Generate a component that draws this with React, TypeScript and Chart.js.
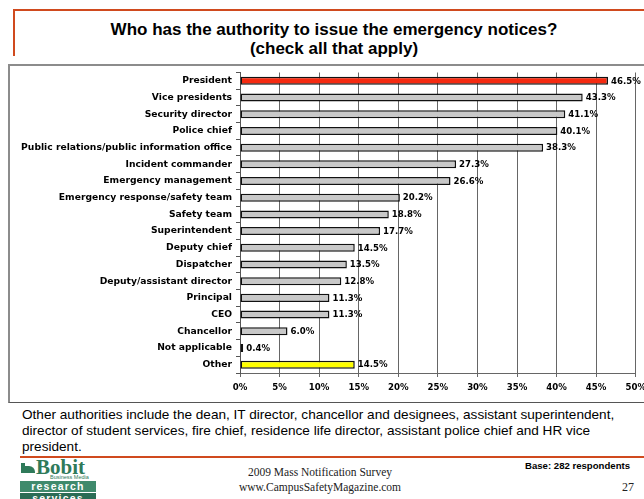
import React, { useEffect, useRef } from "react";
import { Chart, registerables } from "chart.js";

Chart.register(...registerables);

const categories = [
  "President",
  "Vice presidents",
  "Security director",
  "Police chief",
  "Public relations/public information office",
  "Incident commander",
  "Emergency management",
  "Emergency response/safety team",
  "Safety team",
  "Superintendent",
  "Deputy chief",
  "Dispatcher",
  "Deputy/assistant director",
  "Principal",
  "CEO",
  "Chancellor",
  "Not applicable",
  "Other",
];

const values = [46.5, 43.3, 41.1, 40.1, 38.3, 27.3, 26.6, 20.2, 18.8, 17.7, 14.5, 13.5, 12.8, 11.3, 11.3, 6.0, 0.4, 14.5];

const xTickValues = [0, 5, 10, 15, 20, 25, 30, 35, 40, 45, 50];

const barColors = categories.map((c) =>
  c === "President" ? "#f52a10" : c === "Other" ? "#ffff00" : "#c8c8c8"
);

const FONT = "'Liberation Sans', Arial, sans-serif";
const CHART_FONT = "'DejaVu Sans', sans-serif";

const valueLabelPlugin = {
  id: "valueLabels",
  afterDatasetsDraw(chart: any) {
    const ctx = chart.ctx;
    const meta = chart.getDatasetMeta(0);
    ctx.save();
    ctx.font = `bold 8.6px ${CHART_FONT}`;
    ctx.fillStyle = "#000";
    ctx.textAlign = "left";
    ctx.textBaseline = "middle";
    meta.data.forEach((bar: any, i: number) => {
      ctx.fillText(values[i].toFixed(1) + "%", bar.x + 3, bar.y + 0.5);
    });
    ctx.restore();
  },
};

function BarChart() {
  const ref = useRef<HTMLCanvasElement>(null);
  useEffect(() => {
    if (!ref.current) return;
    const chart = new Chart(ref.current, {
      type: "bar",
      data: {
        labels: categories,
        datasets: [
          {
            data: values,
            backgroundColor: barColors,
            borderColor: "#111",
            borderWidth: 1.5,
            borderSkipped: false,
            categoryPercentage: 1,
            barPercentage: 0.48,
          },
        ],
      },
      options: {
        indexAxis: "y",
        animation: false,
        responsive: false,
        maintainAspectRatio: false,
        layout: { padding: { top: 0, right: 0, left: 0, bottom: 0 } },
        plugins: {
          legend: { display: false },
          tooltip: { enabled: false },
        },
        scales: {
          x: {
            min: 0,
            max: 50,
            afterBuildTicks: (scale: any) => {
              scale.ticks = xTickValues.map((v) => ({ value: v }));
            },
            afterFit: (scale: any) => {
              scale.height = 27;
            },
            grid: {
              color: "#666",
              lineWidth: 1,
              drawTicks: true,
              tickLength: 4,
              tickColor: "#666",
            },
            border: { display: true, color: "#666" },
            ticks: {
              padding: 6,
              color: "#000",
              font: { family: CHART_FONT, size: 8.6, weight: "bold" },
              callback: (v: any) => v + "%",
            },
          },
          y: {
            afterFit: (scale: any) => {
              scale.width = 230;
            },
            grid: {
              display: true,
              drawOnChartArea: false,
              drawTicks: true,
              tickLength: 4,
              offset: true,
              color: "#555",
            },
            border: { display: true, color: "#555" },
            ticks: {
              padding: 4,
              color: "#000",
              autoSkip: false,
              font: { family: CHART_FONT, size: 9.2, weight: "bold" },
            },
          },
        },
      },
      plugins: [valueLabelPlugin],
    });
    return () => chart.destroy();
  }, []);
  return <canvas ref={ref} width={642} height={337} style={{ position: "absolute", left: 10, top: 63, width: 642, height: 337 }} />;
}

export default function App() {
  return (
    <div
      style={{
        position: "fixed",
        left: 0,
        top: 0,
        width: 644,
        height: 499,
        background: "#fff",
        overflow: "hidden",
        fontFamily: FONT,
      }}
    >
      {/* top red rule */}
      <div style={{ position: "absolute", left: 13, top: 9, width: 631, height: 2, background: "#d04a1e" }} />
      <div style={{ position: "absolute", left: 13, top: 9, width: 2, height: 47, background: "#d04a1e" }} />
      {/* title */}
      <div
        style={{
          position: "absolute",
          left: 14,
          top: 20,
          width: 640,
          textAlign: "center",
          fontWeight: "bold",
          fontSize: 17,
          lineHeight: "19px",
          color: "#000",
        }}
      >
        Who has the authority to issue the emergency notices?
        <br />
        (check all that apply)
      </div>
      {/* chart box */}
      <div
        style={{
          position: "absolute",
          left: 8,
          top: 64,
          width: 640,
          height: 336,
          borderLeft: "2px solid #8c8c8c",
          borderTop: "2px solid #8c8c8c",
          borderBottom: "1px solid #555",
        }}
      />
      <BarChart />
      {/* note text */}
      <div
        style={{
          position: "absolute",
          left: 22,
          top: 407,
          width: 622,
          fontSize: 13.6,
          lineHeight: "16px",
          color: "#000",
          whiteSpace: "nowrap",
        }}
      >
        Other authorities include the dean, IT director, chancellor and designees, assistant superintendent,
        <br />
        director of student services, fire chief, residence life director, assistant police chief and HR vice
        <br />
        president.
      </div>
      <div style={{ position: "absolute", left: 20, top: 456, width: 624, height: 2, background: "#d04a1e" }} />
      {/* logo */}
      <div style={{ position: "absolute", left: 20, top: 460, width: 76, height: 39 }}>
        <div style={{ position: "absolute", left: 1, top: 3, width: 4, height: 10, background: "#2f7a5a" }} />
        <div style={{ position: "absolute", left: 5, top: 6, width: 10, height: 7, background: "#2f7a5a", borderTopRightRadius: 6 }} />
        <div
          style={{
            position: "absolute",
            left: 16,
            top: -3,
            fontFamily: "'Liberation Serif', serif",
            fontWeight: "bold",
            fontSize: 21,
            color: "#2f7a5a",
            lineHeight: "20px",
          }}
        >
          Bobit
        </div>
        <div style={{ position: "absolute", left: 30, top: 14, fontSize: 5.5, lineHeight: "6px", color: "#2f7a5a" }}>Business Media</div>
        <div
          style={{
            position: "absolute",
            left: 0,
            top: 21,
            width: 76,
            height: 11,
            background: "#3f8a6c",
            color: "#fff",
            fontWeight: "bold",
            fontSize: 10.5,
            lineHeight: "11px",
            textAlign: "center",
            letterSpacing: 1.2,
          }}
        >
          research
        </div>
        <div
          style={{
            position: "absolute",
            left: 0,
            top: 33,
            width: 76,
            height: 11,
            background: "#2b6c55",
            color: "#fff",
            fontWeight: "bold",
            fontSize: 10.5,
            lineHeight: "11px",
            textAlign: "center",
            letterSpacing: 1.2,
          }}
        >
          services
        </div>
      </div>
      {/* footer */}
      <div
        style={{
          position: "absolute",
          left: 230,
          top: 465,
          width: 180,
          textAlign: "center",
          fontFamily: "'Liberation Serif', serif",
          fontSize: 11.5,
          lineHeight: "15px",
          color: "#222",
        }}
      >
        2009 Mass Notification Survey
        <br />
        www.CampusSafetyMagazine.com
      </div>
      <div style={{ position: "absolute", left: 525, top: 460, fontSize: 9.6, fontWeight: "bold", color: "#000" }}>
        Base: 282 respondents
      </div>
      <div
        style={{
          position: "absolute",
          left: 622,
          top: 480,
          fontFamily: "'Liberation Serif', serif",
          fontSize: 12,
          color: "#222",
        }}
      >
        27
      </div>
    </div>
  );
}
